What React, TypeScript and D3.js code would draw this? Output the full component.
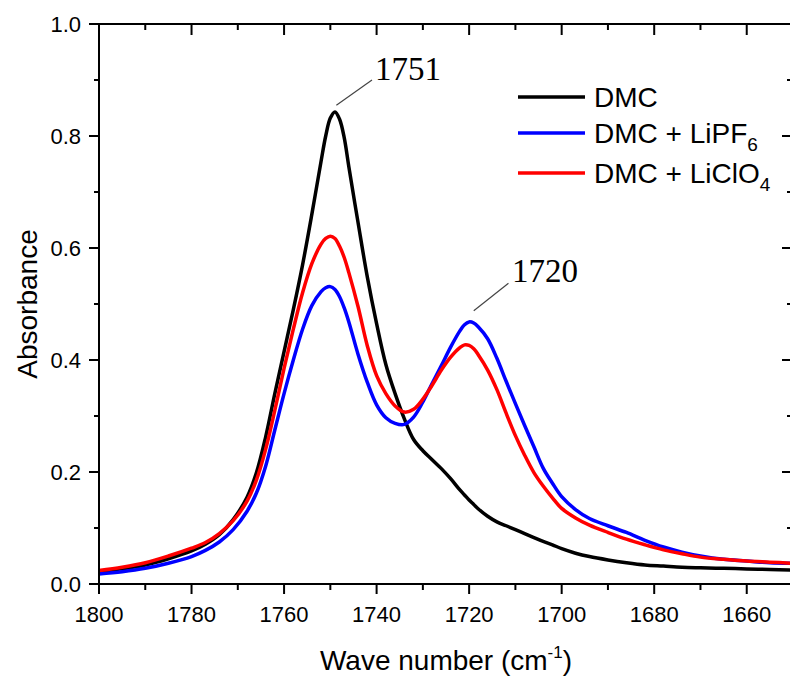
import React, { useEffect, useRef } from 'react';
import * as d3 from 'd3';

// wave numbers (cm-1), shared by all three spectra
const waveNumbers = [1800, 1795, 1790, 1785, 1780, 1777, 1774, 1771, 1768, 1766, 1764, 1762, 1760, 1758, 1756, 1754, 1752, 1751, 1750, 1749, 1748, 1747, 1746, 1744, 1742, 1740, 1738, 1736, 1734, 1732, 1730, 1728, 1726, 1724, 1722, 1721, 1720, 1719, 1718, 1716, 1714, 1712, 1710, 1708, 1706, 1704, 1702, 1700, 1697, 1694, 1690, 1686, 1682, 1678, 1674, 1670, 1665, 1660, 1655, 1650];

const dmc = [0.022, 0.027, 0.034, 0.045, 0.059, 0.071, 0.088, 0.115, 0.155, 0.198, 0.262, 0.34, 0.415, 0.49, 0.57, 0.66, 0.755, 0.80, 0.832, 0.843, 0.83, 0.797, 0.745, 0.645, 0.548, 0.465, 0.392, 0.34, 0.295, 0.258, 0.238, 0.222, 0.206, 0.188, 0.168, 0.159, 0.15, 0.142, 0.134, 0.121, 0.111, 0.104, 0.097, 0.09, 0.083, 0.076, 0.07, 0.063, 0.055, 0.049, 0.043, 0.038, 0.034, 0.032, 0.030, 0.029, 0.028, 0.027, 0.026, 0.025];

const dmcLiPF6 = [0.018, 0.022, 0.028, 0.037, 0.049, 0.06, 0.075, 0.097, 0.13, 0.162, 0.21, 0.275, 0.34, 0.40, 0.455, 0.497, 0.522, 0.529, 0.531, 0.526, 0.513, 0.493, 0.468, 0.41, 0.36, 0.32, 0.297, 0.287, 0.285, 0.298, 0.325, 0.358, 0.39, 0.423, 0.452, 0.463, 0.468, 0.466, 0.459, 0.438, 0.403, 0.362, 0.322, 0.283, 0.245, 0.207, 0.18, 0.156, 0.133, 0.117, 0.104, 0.092, 0.078, 0.066, 0.057, 0.05, 0.044, 0.041, 0.038, 0.037];

const dmcLiClO4 = [0.024, 0.030, 0.038, 0.050, 0.064, 0.074, 0.09, 0.113, 0.148, 0.185, 0.24, 0.31, 0.385, 0.455, 0.52, 0.572, 0.607, 0.617, 0.621, 0.617, 0.603, 0.583, 0.556, 0.495, 0.425, 0.372, 0.34, 0.318, 0.307, 0.312, 0.33, 0.355, 0.382, 0.405, 0.422, 0.427, 0.426, 0.42, 0.409, 0.382, 0.347, 0.305, 0.265, 0.23, 0.199, 0.175, 0.154, 0.135, 0.118, 0.105, 0.092, 0.08, 0.07, 0.061, 0.054, 0.048, 0.044, 0.041, 0.039, 0.037];

const xTicks = [1800, 1780, 1760, 1740, 1720, 1700, 1680, 1660];
const yTicks = [0.0, 0.2, 0.4, 0.6, 0.8, 1.0];

const seriesNames = ['DMC', 'DMC + LiPF', 'DMC + LiClO'];
const seriesSubs = ['', '6', '4'];
const seriesColors = ['#000000', '#0000ff', '#ff0000'];

export default function App() {
  const ref = useRef<SVGSVGElement>(null);

  useEffect(() => {
    const svg = d3.select(ref.current);
    svg.selectAll('*').remove();

    const left = 99, right = 793, top = 24, bottom = 584;
    const x = d3.scaleLinear().domain([1800, 1650]).range([left, right]);
    const y = d3.scaleLinear().domain([0, 1]).range([bottom, top]);
    const font = 'Arial, "Liberation Sans", sans-serif';

    // curves
    const line = d3.line<number>()
      .x((d, i) => x(waveNumbers[i]))
      .y(d => y(d))
      .curve(d3.curveCatmullRom.alpha(0.5));

    [dmc, dmcLiPF6, dmcLiClO4].forEach((s, i) => {
      svg.append('path')
        .attr('d', line(s))
        .attr('fill', 'none')
        .attr('stroke', seriesColors[i])
        .attr('stroke-width', 3.5)
        .attr('stroke-linejoin', 'round');
    });

    // frame lines
    const axisStroke = 2;
    svg.append('rect')
      .attr('x', left).attr('y', top)
      .attr('width', right - left).attr('height', bottom - top)
      .attr('fill', 'none').attr('stroke', '#000').attr('stroke-width', axisStroke);

    const minorX = d3.range(1790, 1650, -20);
    const minorY = d3.range(0.1, 1.0, 0.2);

    // bottom ticks (outward), top ticks (inward)
    xTicks.forEach(t => {
      svg.append('line').attr('x1', x(t)).attr('x2', x(t)).attr('y1', bottom).attr('y2', bottom + 10)
        .attr('stroke', '#000').attr('stroke-width', axisStroke);
      svg.append('line').attr('x1', x(t)).attr('x2', x(t)).attr('y1', top).attr('y2', top + 11)
        .attr('stroke', '#000').attr('stroke-width', axisStroke);
      svg.append('text').attr('x', x(t)).attr('y', 622)
        .attr('text-anchor', 'middle').attr('font-family', font).attr('font-size', 22)
        .text(t);
    });
    minorX.forEach(t => {
      svg.append('line').attr('x1', x(t)).attr('x2', x(t)).attr('y1', bottom).attr('y2', bottom + 6)
        .attr('stroke', '#000').attr('stroke-width', axisStroke);
      svg.append('line').attr('x1', x(t)).attr('x2', x(t)).attr('y1', top).attr('y2', top + 6)
        .attr('stroke', '#000').attr('stroke-width', axisStroke);
    });

    // left ticks (outward), right ticks (inward)
    yTicks.forEach(t => {
      svg.append('line').attr('x1', left - 10).attr('x2', left).attr('y1', y(t)).attr('y2', y(t))
        .attr('stroke', '#000').attr('stroke-width', axisStroke);
      svg.append('line').attr('x1', right - 11).attr('x2', right).attr('y1', y(t)).attr('y2', y(t))
        .attr('stroke', '#000').attr('stroke-width', axisStroke);
      svg.append('text').attr('x', 81).attr('y', y(t) + 8)
        .attr('text-anchor', 'end').attr('font-family', font).attr('font-size', 22)
        .text(t.toFixed(1));
    });
    minorY.forEach(t => {
      svg.append('line').attr('x1', left - 5).attr('x2', left).attr('y1', y(t)).attr('y2', y(t))
        .attr('stroke', '#000').attr('stroke-width', axisStroke);
      svg.append('line').attr('x1', right - 6).attr('x2', right).attr('y1', y(t)).attr('y2', y(t))
        .attr('stroke', '#000').attr('stroke-width', axisStroke);
    });

    // axis titles
    svg.append('text')
      .attr('transform', `translate(37, ${(top + bottom) / 2}) rotate(-90)`)
      .attr('text-anchor', 'middle').attr('font-family', font).attr('font-size', 28)
      .text('Absorbance');

    const xt = svg.append('text')
      .attr('x', (left + right) / 2).attr('y', 670)
      .attr('text-anchor', 'middle').attr('font-family', font).attr('font-size', 28);
    xt.append('tspan').text('Wave number (cm');
    xt.append('tspan').attr('dy', -12).attr('font-size', 17).text('-1');
    xt.append('tspan').attr('dy', 12).text(')');

    // legend
    const legendY = [97, 133, 173];
    seriesNames.forEach((name, i) => {
      svg.append('line').attr('x1', 518).attr('x2', 585).attr('y1', legendY[i]).attr('y2', legendY[i])
        .attr('stroke', seriesColors[i]).attr('stroke-width', 3.5);
      const t = svg.append('text').attr('x', 594).attr('y', legendY[i] + 10)
        .attr('font-family', font).attr('font-size', 28);
      t.append('tspan').text(name);
      if (seriesSubs[i]) t.append('tspan').attr('dy', 8).attr('font-size', 19).text(seriesSubs[i]);
    });

    // peak annotations
    const serif = '"Times New Roman", "Liberation Serif", serif';
    svg.append('line').attr('x1', x(1748.7)).attr('y1', y(0.855)).attr('x2', x(1741)).attr('y2', y(0.9))
      .attr('stroke', '#444').attr('stroke-width', 1.2);
    svg.append('text').attr('x', 375).attr('y', 80).attr('font-family', serif).attr('font-size', 33).text('1751');

    svg.append('line').attr('x1', x(1719)).attr('y1', y(0.488)).attr('x2', x(1711.5)).attr('y2', y(0.537))
      .attr('stroke', '#444').attr('stroke-width', 1.2);
    svg.append('text').attr('x', 512).attr('y', 282).attr('font-family', serif).attr('font-size', 33).text('1720');
  }, []);

  return (
    <svg ref={ref} width={790} height={677}
      style={{ position: 'absolute', left: 0, top: 0, background: '#fff' }} />
  );
}
